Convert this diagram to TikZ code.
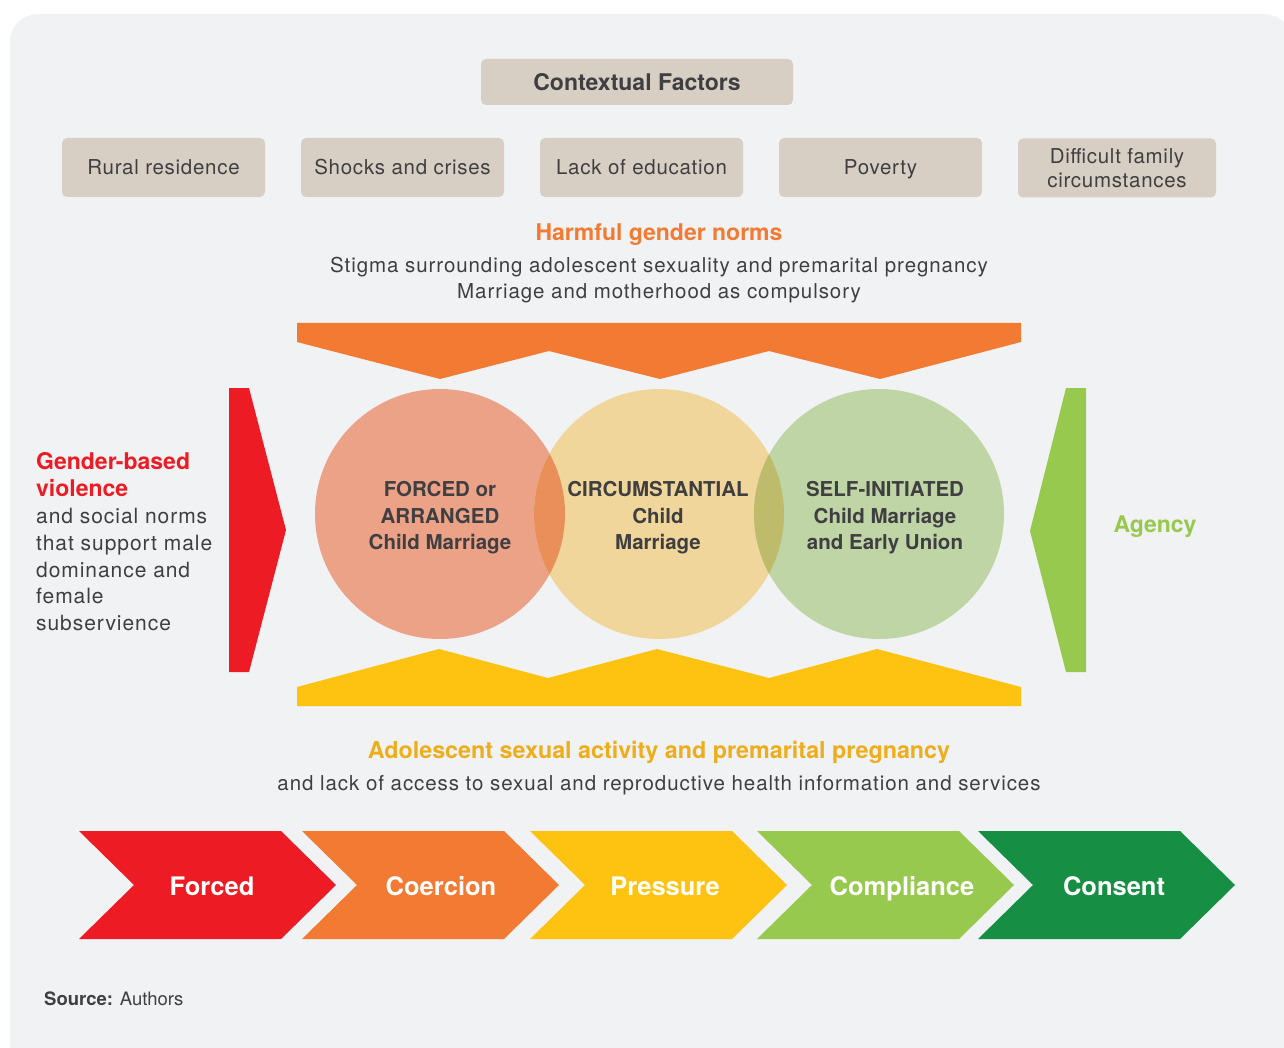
\documentclass[tikz,border=0pt]{standalone}
\usepackage{fontspec}
\setmainfont{TeX Gyre Heros}
\newfontfamily\widefont[LetterSpace=4.5]{TeX Gyre Heros}
\newfontfamily\boxfont[LetterSpace=3.5]{TeX Gyre Heros}

\definecolor{panelbg}{HTML}{F1F2F4}
\definecolor{boxtan}{HTML}{D8CFC4}
\definecolor{txtgray}{HTML}{3F3F41}
\definecolor{cmred}{HTML}{ED1C24}
\definecolor{cmorange}{HTML}{F37A32}
\definecolor{cmyellow}{HTML}{FDC310}
\definecolor{cmgold}{HTML}{EEAD1A}
\definecolor{cmlgreen}{HTML}{97C94E}
\definecolor{cmdgreen}{HTML}{168F45}
\definecolor{circA}{HTML}{EBA287}
\definecolor{circB}{HTML}{F0D69A}
\definecolor{circC}{HTML}{BFD5A5}
\definecolor{ovAB}{HTML}{E98F5A}
\definecolor{ovBC}{HTML}{BEBC6A}

\tikzset{
  factor/.style={fill=boxtan,rounded corners=5pt,minimum width=203pt,minimum height=59pt,
    inner sep=0pt,align=center,text=txtgray,font=\boxfont\fontsize{20.5}{24}\selectfont},
  plain/.style={inner sep=0pt,text=txtgray,font=\widefont\fontsize{20.5}{26}\selectfont},
  heading/.style={inner sep=0pt,font=\fontsize{23}{27}\selectfont\bfseries},
  circtext/.style={inner sep=0pt,align=center,text=txtgray,font=\fontsize{20.5}{26.5}\selectfont\bfseries},
  chevtext/.style={inner sep=0pt,anchor=base,text=white,font=\fontsize{25.5}{30}\selectfont\bfseries}
}

\begin{document}
\begin{tikzpicture}[x=1pt,y=-1pt]
\useasboundingbox (0,0) rectangle (1284,1048);
\fill[white] (0,0) rectangle (1284,1048);
\fill[panelbg,rounded corners=28pt] (10,14) rectangle (1292,1070);

\node[factor,minimum width=312pt,minimum height=46pt,font=\fontsize{23}{26}\selectfont\bfseries] (ctx) at (637,82) {Contextual Factors};
\node[factor] (rural) at (163.5,167.5) {Rural residence};
\node[factor] (shocks) at (402.5,167.5) {Shocks and crises};
\node[factor] (educ) at (641.5,167.5) {Lack of education};
\node[factor,text depth=0pt] (poverty) at (880.5,167.5) {Poverty};
\node[factor,minimum width=198pt] (family) at (1117,168) {Difficult family\\circumstances};

\node[heading,text=cmorange,anchor=base] (harm) at (659,241) {Harmful gender norms};
\node[plain,anchor=base] (stigma) at (659,273) {Stigma surrounding adolescent sexuality and premarital pregnancy};
\node[plain,anchor=base] (compuls) at (659,299) {Marriage and motherhood as compulsory};

\fill[cmorange] (297,323) -- (1021,323) -- (1021,342) -- (880,379) -- (769,351) -- (660,379)
  -- (549,351) -- (440,379) -- (297,342) -- cycle;
\fill[cmyellow] (297,706) -- (1021,706) -- (1021,687) -- (877,649) -- (769,678) -- (657,649)
  -- (548,678) -- (439,649) -- (297,687) -- cycle;
\fill[cmred] (229,388) -- (249,388) -- (286,530) -- (249,672) -- (229,672) -- cycle;
\fill[cmlgreen] (1086,388) -- (1066,388) -- (1030,531) -- (1066,672) -- (1086,672) -- cycle;

\fill[circA] (440,514) circle [radius=125pt];
\fill[circB] (659,514) circle [radius=125pt];
\fill[circC] (879,514) circle [radius=125pt];
\begin{scope}
  \clip (440,514) circle [radius=125pt];
  \fill[ovAB] (659,514) circle [radius=125pt];
\end{scope}
\begin{scope}
  \clip (659,514) circle [radius=125pt];
  \fill[ovBC] (879,514) circle [radius=125pt];
\end{scope}

\node[circtext] (forced) at (440,518) {FORCED or\\ARRANGED\\Child Marriage};
\node[circtext] (circum) at (658,518) {CIRCUMSTANTIAL\\Child\\Marriage};
\node[circtext] (selfin) at (885,518) {SELF-INITIATED\\Child Marriage\\and Early Union};

\node[plain,anchor=west,align=left,font=\widefont\fontsize{21}{26.8}\selectfont] (gbv) at (36,542)
  {\textcolor{cmred}{\normalfont\fontsize{23}{26.8}\selectfont\bfseries Gender-based}\\
   \textcolor{cmred}{\normalfont\fontsize{23}{26.8}\selectfont\bfseries violence}\\
   and social norms\\that support male\\dominance and\\female\\subservience};
\node[heading,text=cmlgreen,anchor=base] (agency) at (1155,532) {Agency};

\node[heading,text=cmgold,anchor=base,font=\fontsize{23.3}{27}\selectfont\bfseries] (adol) at (659,758) {Adolescent sexual activity and premarital pregnancy};
\node[plain,anchor=base] (lack) at (659,790) {and lack of access to sexual and reproductive health information and services};

\foreach \x/\m/\c/\t [count=\i] in {79/212/cmred/Forced,302/441/cmorange/Coercion,530/665/cmyellow/Pressure,
  757/902/cmlgreen/Compliance,978/1114/cmdgreen/Consent} {
  \fill[\c] (\x,831) -- ++(202,0) -- ++(55,54) -- ++(-55,54) -- ++(-202,0) -- ++(55,-54) -- cycle;
  \node[chevtext] (chev\i) at (\m,895) {\t};
}

\node[plain,anchor=base west,font=\fontsize{18.5}{22}\selectfont] (source) at (44,1005) {\textbf{Source:} Authors};
\end{tikzpicture}
\end{document}
